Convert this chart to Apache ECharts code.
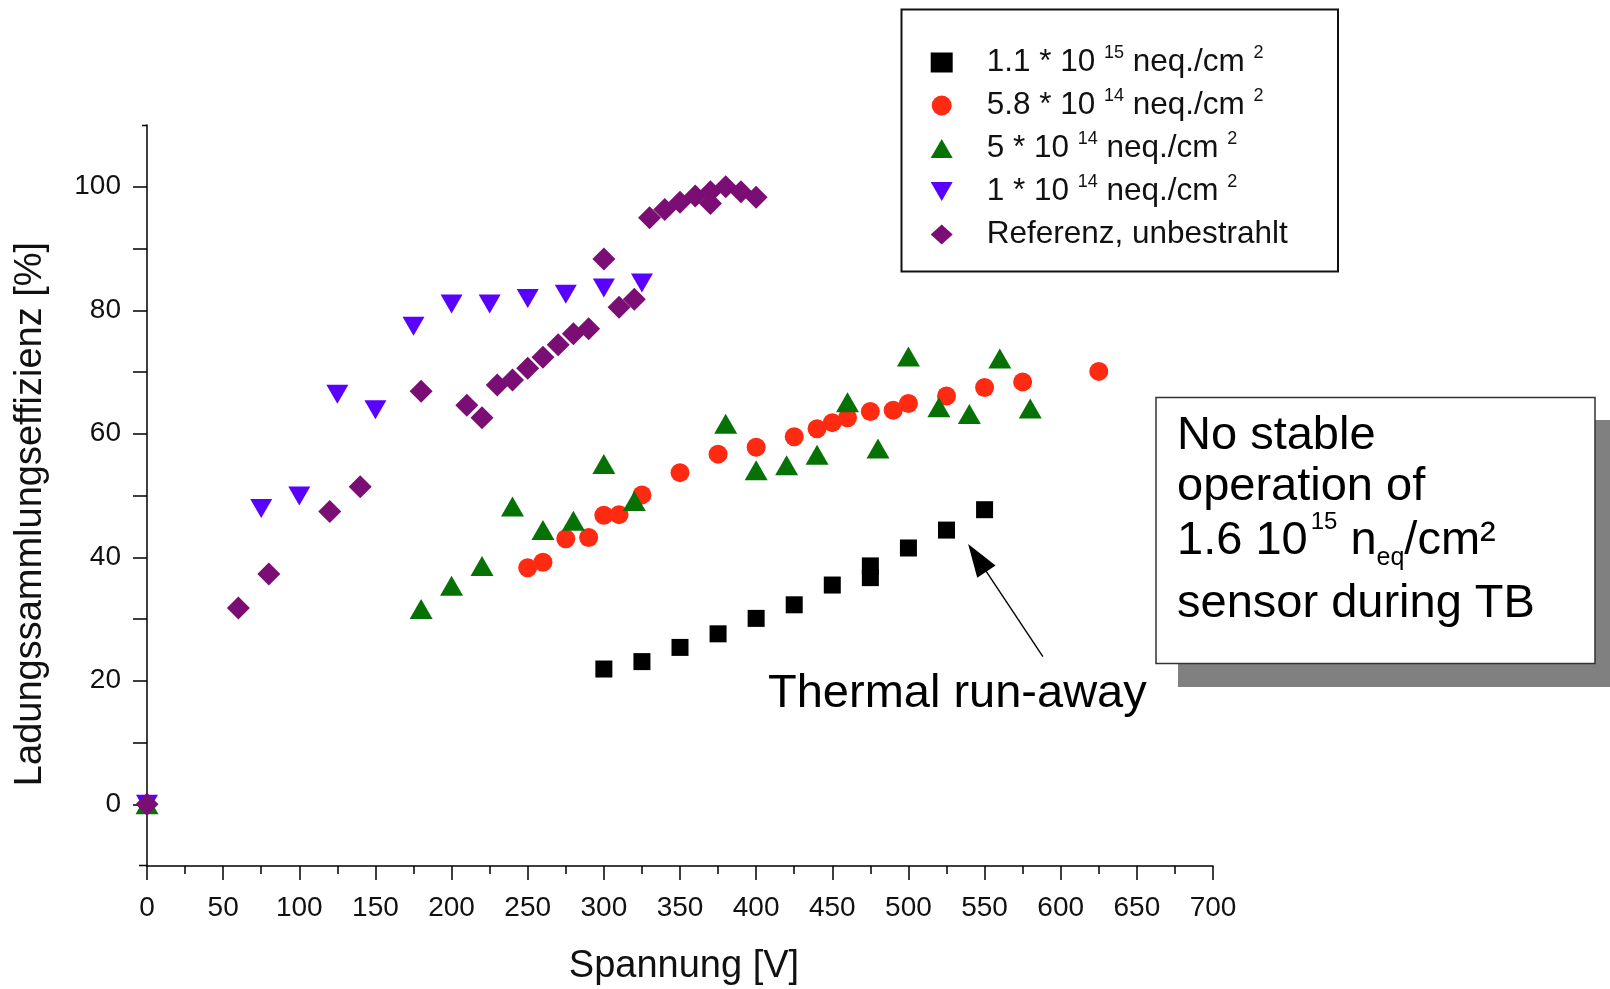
<!DOCTYPE html>
<html>
<head>
<meta charset="utf-8">
<title>Ladungssammlungseffizienz vs. Spannung</title>
<script src="https://cdn.jsdelivr.net/npm/echarts@6/dist/echarts.min.js"></script>
<style>
  html, body { margin: 0; padding: 0; background: #ffffff; }
  #chart { width: 1610px; height: 989px; }
</style>
</head>
<body>
<div id="chart"></div>
<script>
// ---- Measured charge collection efficiency [%] vs. bias voltage [V] ----

// 1.1e15 neq/cm^2
const volt_11e15 = [300, 325, 350, 375, 400, 425, 450, 475, 475, 500, 525, 550];
const eff_11e15  = [21.9, 23.1, 25.4, 27.6, 30.1, 32.3, 35.5, 36.7, 38.6, 41.5, 44.4, 47.7];

// 5.8e14 neq/cm^2
const volt_58e14 = [250, 260, 275, 290, 300, 310, 325, 350, 375, 400, 425, 440, 450, 460, 475, 490, 500, 525, 550, 575, 625];
const eff_58e14  = [38.3, 39.2, 43.0, 43.2, 46.8, 46.9, 50.1, 53.7, 56.7, 57.8, 59.5, 60.8, 61.8, 62.6, 63.6, 63.8, 64.9, 66.1, 67.5, 68.4, 70.1];

// 5e14 neq/cm^2
const volt_5e14 = [0, 180, 200, 220, 240, 260, 280, 300, 320, 380, 400, 420, 440, 460, 480, 500, 520, 540, 560, 580];
const eff_5e14  = [0, 31.6, 35.4, 38.6, 48.2, 44.4, 45.9, 55.1, 49.1, 61.6, 54.1, 54.9, 56.6, 65.1, 57.6, 72.5, 64.3, 63.2, 72.2, 64.1];

// 1e14 neq/cm^2
const volt_1e14 = [0, 75, 100, 125, 150, 175, 200, 225, 250, 275, 300, 325];
const eff_1e14  = [0, 47.9, 49.9, 66.4, 63.9, 77.4, 81.0, 81.0, 81.9, 82.6, 83.6, 84.4];

// unirradiated reference
const volt_ref = [0, 60, 80, 120, 140, 180, 210, 220, 230, 240, 250, 260, 270, 280, 290, 300, 310, 320, 330, 340, 350, 360, 370, 370, 380, 390, 400];
const eff_ref  = [0, 31.8, 37.3, 47.4, 51.4, 66.9, 64.6, 62.6, 67.9, 68.7, 70.6, 72.4, 74.4, 76.2, 77.0, 88.3, 80.5, 81.8, 95.0, 96.3, 97.5, 98.5, 99.2, 97.3, 100.0, 99.2, 98.3];

// legend labels
const fluenceMantissa = ['1.1', '5.8', '5', '1'];
const fluenceExponent = ['15', '14', '14', '14'];
const referenceName = 'Referenz, unbestrahlt';

// axis ticks
const xTickValues = [0, 50, 100, 150, 200, 250, 300, 350, 400, 450, 500, 550, 600, 650, 700];
const yLabelValues = [0, 20, 40, 60, 80, 100];
const yTickValues = [0, 10, 20, 30, 40, 50, 60, 70, 80, 90, 100];
const yRange = [-10, 110];

// thermal run-away arrow (tail -> head centre), in data units
const arrowTail = [588.3, 23.9];
const arrowHead = [545.2, 39.9];

const fluenceNames = fluenceMantissa.map((m, i) => m + ' * 10^' + fluenceExponent[i] + ' neq./cm^2');
const pairs = (xs, ys) => xs.map((x, i) => [x, ys[i]]);

const FONT = '"Liberation Sans", Arial, Helvetica, sans-serif';
const downTriangle = 'path://M0,0 L22,0 L11,19 Z';
const upTriangle = 'path://M11,0 L22,19 L0,19 Z';

const chart = echarts.init(document.getElementById('chart'), null, { renderer: 'canvas' });

function legendLabel(name) {
  const i = fluenceNames.indexOf(name);
  if (i < 0) return '{gap|}' + name;
  return '{gap|}' + fluenceMantissa[i] + ' * 10 {sup|' + fluenceExponent[i] + '} neq./cm {sup|2}';
}

function scatter(name, data, symbol, size, color, z) {
  return {
    type: 'scatter',
    name: name,
    data: data,
    symbol: symbol,
    symbolSize: size,
    z: z,
    itemStyle: { color: color, opacity: 1 },
    emphasis: { disabled: true },
    silent: true
  };
}

const series = [
  scatter(fluenceNames[0], pairs(volt_11e15, eff_11e15), 'rect', 17, '#000000', 2),
  scatter(fluenceNames[1], pairs(volt_58e14, eff_58e14), 'circle', 19, '#ff2a12', 3),
  scatter(fluenceNames[2], pairs(volt_5e14, eff_5e14), upTriangle, [23, 20], '#067206', 4),
  scatter(fluenceNames[3], pairs(volt_1e14, eff_1e14), downTriangle, [22, 19], '#5a00ff', 5),
  scatter(referenceName, pairs(volt_ref, eff_ref), 'diamond', 23, '#7a0e74', 6)
];

series[0].markLine = {
  silent: true,
  symbol: ['none', 'triangle'],
  symbolSize: [22, 33],
  label: { show: false },
  emphasis: { disabled: true },
  lineStyle: { color: '#000000', width: 1.4, type: 'solid' },
  itemStyle: { color: '#000000' },
  data: [[{ coord: arrowTail }, { coord: arrowHead }]]
};

const option = {
  animation: false,
  backgroundColor: '#ffffff',
  grid: { left: 147, right: 397, top: 125, bottom: 123, containLabel: false },
  xAxis: {
    type: 'value',
    min: 0,
    max: 700,
    interval: 50,
    axisLine: { onZero: false, lineStyle: { color: '#000000', width: 1.5 } },
    axisTick: { show: true, length: 14, lineStyle: { color: '#000000', width: 1.5 } },
    minorTick: { show: true, splitNumber: 2, length: 8, lineStyle: { color: '#000000', width: 1.5 } },
    splitLine: { show: false },
    axisLabel: {
      margin: 28,
      fontFamily: FONT,
      fontSize: 28,
      color: '#111111',
      formatter: v => (xTickValues.indexOf(v) >= 0 ? String(v) : '')
    }
  },
  yAxis: {
    type: 'value',
    min: yRange[0],
    max: yRange[1],
    interval: 10,
    axisLine: { onZero: false, lineStyle: { color: '#000000', width: 1.5 } },
    axisTick: { show: true, length: 14, customValues: yTickValues, lineStyle: { color: '#000000', width: 1.5 } },
    splitLine: { show: false },
    axisLabel: {
      margin: 26,
      fontFamily: FONT,
      fontSize: 28,
      color: '#111111',
      customValues: yLabelValues,
      formatter: v => (yLabelValues.indexOf(v) >= 0 ? String(v) : '')
    }
  },
  legend: {
    show: true,
    orient: 'vertical',
    left: 930.7,
    top: 44.5,
    padding: 0,
    itemGap: 7,
    itemWidth: 22,
    itemHeight: 20,
    symbolKeepAspect: true,
    selectedMode: false,
    data: [fluenceNames[0], fluenceNames[1], fluenceNames[2], fluenceNames[3], referenceName],
    formatter: legendLabel,
    textStyle: {
      fontFamily: FONT,
      fontSize: 31.5,
      lineHeight: 36,
      color: '#111111',
      rich: {
        gap: { width: 29, lineHeight: 36 },
        sup: { fontFamily: FONT, fontSize: 18, lineHeight: 9, verticalAlign: 'top', color: '#111111' }
      }
    }
  },
  graphic: [
    // short end stubs of the y axis at -10 and 110
    {
      type: 'line', z: 5,
      shape: { x1: 139, y1: 865.5, x2: 147, y2: 865.5 },
      style: { stroke: '#000000', lineWidth: 1.5 }
    },
    {
      type: 'line', z: 5,
      shape: { x1: 142, y1: 125.5, x2: 147, y2: 125.5 },
      style: { stroke: '#000000', lineWidth: 1.5 }
    },
    // legend frame
    {
      type: 'rect', z: 0,
      shape: { x: 901.5, y: 9.5, width: 436.5, height: 262 },
      style: { fill: 'rgba(0,0,0,0)', stroke: '#111111', lineWidth: 2 }
    },
    // note box with drop shadow
    {
      type: 'rect', z: 10,
      shape: { x: 1178, y: 420, width: 440, height: 267 },
      style: { fill: '#808080' }
    },
    {
      type: 'rect', z: 11,
      shape: { x: 1156, y: 397.5, width: 439, height: 266 },
      style: { fill: '#ffffff', stroke: '#333333', lineWidth: 1.5 }
    },
    {
      type: 'text', z: 12, x: 1177, y: 435.8,
      style: { text: 'No stable', font: '47px ' + FONT, fill: '#000000', textAlign: 'left', textVerticalAlign: 'middle', align: 'left', verticalAlign: 'middle' }
    },
    {
      type: 'text', z: 12, x: 1177, y: 487.1,
      style: { text: 'operation of', font: '47px ' + FONT, fill: '#000000', textAlign: 'left', textVerticalAlign: 'middle', align: 'left', verticalAlign: 'middle' }
    },
    {
      type: 'text', z: 12, x: 1177, y: 540.8,
      style: {
        text: '1.6 10{sup|15} n{sub|eq}/cm²',
        fontFamily: FONT, fontSize: 47, lineHeight: 60, fill: '#000000',
        textAlign: 'left', textVerticalAlign: 'middle', align: 'left', verticalAlign: 'middle',
        rich: {
          sup: { fontFamily: FONT, fontSize: 24, lineHeight: 46, verticalAlign: 'top', fill: '#000000', padding: [0, 0, 0, 3] },
          sub: { fontFamily: FONT, fontSize: 25, lineHeight: 15, verticalAlign: 'bottom', fill: '#000000' }
        }
      }
    },
    {
      type: 'text', z: 12, x: 1177, y: 604.1,
      style: { text: 'sensor during TB', font: '47px ' + FONT, fill: '#000000', textAlign: 'left', textVerticalAlign: 'middle', align: 'left', verticalAlign: 'middle' }
    },
    // annotation text
    {
      type: 'text', z: 12, x: 768, y: 694,
      style: { text: 'Thermal run-away', font: '47px ' + FONT, fill: '#000000', textAlign: 'left', textVerticalAlign: 'middle', align: 'left', verticalAlign: 'middle' }
    },
    // axis titles
    {
      type: 'text', z: 12, x: 684, y: 967,
      style: { text: 'Spannung [V]', font: '38px ' + FONT, fill: '#111111', textAlign: 'center', textVerticalAlign: 'middle', align: 'center', verticalAlign: 'middle' }
    },
    {
      type: 'text', z: 12, x: 31, y: 514, rotation: Math.PI / 2,
      style: { text: 'Ladungssammlungseffizienz [%]', font: '38px ' + FONT, fill: '#111111', textAlign: 'center', textVerticalAlign: 'middle', align: 'center', verticalAlign: 'middle' }
    }
  ],
  series: series
};

chart.setOption(option);
</script>
</body>
</html>
